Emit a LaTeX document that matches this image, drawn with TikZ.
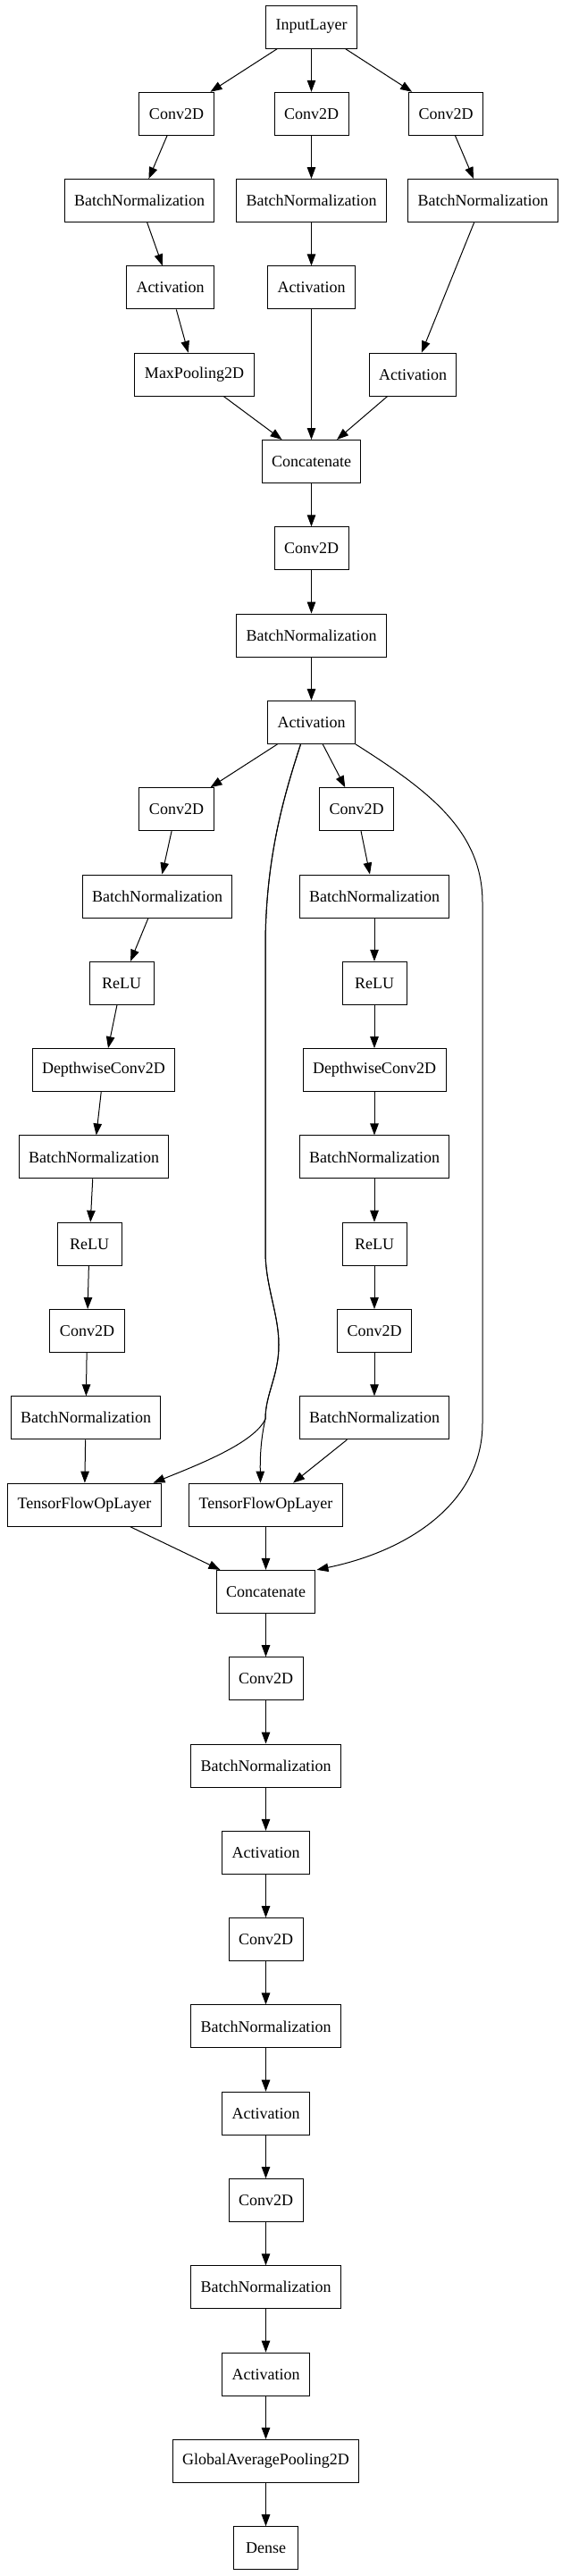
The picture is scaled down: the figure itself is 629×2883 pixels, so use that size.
\documentclass[tikz,border=0pt]{standalone}
\usepackage{fontspec}
\setmainfont{Liberation Serif}
\usepackage{tikz}
\usetikzlibrary{arrows.meta}

\begin{document}
\begin{tikzpicture}[x=1pt, y=-1pt,
        layer/.style={draw=black, line width=1pt, minimum width=72pt, minimum height=48pt,
            inner xsep=11pt, inner ysep=2pt, font=\fontsize{18}{20}\selectfont},
        flow/.style={draw=black, line width=1pt, -{Triangle[length=13pt, width=9.5pt]}}]
        \useasboundingbox (0,0) rectangle (629,2883);
        % Stem - three branches
        \node[layer] (input) at (348.5, 30) {InputLayer};
        \node[layer] (convA) at (197.5, 127.3) {Conv2D};
        \node[layer] (convB) at (348.5, 127.3) {Conv2D};
        \node[layer] (convC) at (499, 127.3) {Conv2D};
        \node[layer] (bnA) at (156, 224.6) {BatchNormalization};
        \node[layer] (bnB) at (348.5, 224.6) {BatchNormalization};
        \node[layer] (bnC) at (540.5, 224.6) {BatchNormalization};
        \node[layer] (actA) at (190.5, 321.9) {Activation};
        \node[layer] (actB) at (348.5, 321.9) {Activation};
        \node[layer] (poolA) at (217.5, 419.2) {MaxPooling2D};
        \node[layer] (actC) at (462, 419.2) {Activation};
        \node[layer] (cat1) at (348.5, 516.5) {Concatenate};
        \node[layer] (conv1) at (348.5, 613.8) {Conv2D};
        \node[layer] (bn1) at (348.5, 711.1) {BatchNormalization};
        \node[layer] (act1) at (348.5, 808.4) {Activation};

        % Separable blocks
        \node[layer] (convL) at (197.5, 905.7) {Conv2D};
        \node[layer] (convR) at (399, 905.7) {Conv2D};
        \node[layer] (bnL1) at (176, 1003) {BatchNormalization};
        \node[layer] (bnR1) at (419, 1003) {BatchNormalization};
        \node[layer] (reluL1) at (136, 1100.3) {ReLU};
        \node[layer] (reluR1) at (419, 1100.3) {ReLU};
        \node[layer] (dwL) at (116, 1197.6) {DepthwiseConv2D};
        \node[layer] (dwR) at (419, 1197.6) {DepthwiseConv2D};
        \node[layer] (bnL2) at (105, 1294.9) {BatchNormalization};
        \node[layer] (bnR2) at (419, 1294.9) {BatchNormalization};
        \node[layer] (reluL2) at (100, 1392.2) {ReLU};
        \node[layer] (reluR2) at (419, 1392.2) {ReLU};
        \node[layer] (convL2) at (97.5, 1489.5) {Conv2D};
        \node[layer] (convR2) at (419, 1489.5) {Conv2D};
        \node[layer] (bnL3) at (96, 1586.8) {BatchNormalization};
        \node[layer] (bnR3) at (419, 1586.8) {BatchNormalization};
        \node[layer] (tfL) at (94.5, 1684.1) {TensorFlowOpLayer};
        \node[layer] (tfR) at (297.5, 1684.1) {TensorFlowOpLayer};
        \node[layer] (cat2) at (297.5, 1781.4) {Concatenate};

        % Head
        \node[layer] (conv3) at (297.5, 1878.7) {Conv2D};
        \node[layer] (bn3) at (297.5, 1976) {BatchNormalization};
        \node[layer] (act3) at (297.5, 2073.3) {Activation};
        \node[layer] (conv4) at (297.5, 2170.6) {Conv2D};
        \node[layer] (bn4) at (297.5, 2267.9) {BatchNormalization};
        \node[layer] (act4) at (297.5, 2365.2) {Activation};
        \node[layer] (conv5) at (297.5, 2462.5) {Conv2D};
        \node[layer] (bn5) at (297.5, 2559.8) {BatchNormalization};
        \node[layer] (act5) at (297.5, 2657.1) {Activation};
        \node[layer] (gap) at (297.5, 2754.4) {GlobalAveragePooling2D};
        \node[layer] (dense) at (297.5, 2851.7) {Dense};

        % straight edges
        \foreach \a/\b in {input/convA, input/convB, input/convC, convA/bnA, convB/bnB, convC/bnC,
            bnA/actA, bnB/actB, bnC/actC, actA/poolA, poolA/cat1, actB/cat1, actC/cat1,
            cat1/conv1, conv1/bn1, bn1/act1, act1/convL, act1/convR,
            convL/bnL1, bnL1/reluL1, reluL1/dwL, dwL/bnL2, bnL2/reluL2, reluL2/convL2, convL2/bnL3, bnL3/tfL,
            convR/bnR1, bnR1/reluR1, reluR1/dwR, dwR/bnR2, bnR2/reluR2, reluR2/convR2, convR2/bnR3, bnR3/tfR,
            tfL/cat2, tfR/cat2, cat2/conv3, conv3/bn3, bn3/act3, act3/conv4, conv4/bn4, bn4/act4,
            act4/conv5, conv5/bn5, bn5/act5, act5/gap, gap/dense}
            \draw[flow] (\a) -- (\b);

        % skip connections
        \coordinate (split) at (297, 1588);
        \draw[flow] ([xshift=-12pt]act1.south) .. controls (318, 890) and (297, 960) .. (297, 1060)
            -- (297, 1400) .. controls (297, 1440) and (312, 1470) .. (312, 1505)
            .. controls (312, 1540) and (297, 1560) .. (split)
            .. controls (292, 1610) and (291, 1630) .. ([xshift=-6pt]tfR.north);
        \draw[flow] ([xshift=-12pt]act1.south) .. controls (318, 890) and (297, 960) .. (297, 1060)
            -- (297, 1400) .. controls (297, 1440) and (312, 1470) .. (312, 1505)
            .. controls (312, 1540) and (297, 1560) .. (split)
            .. controls (285, 1615) and (220, 1640) .. ([xshift=77pt]tfL.north);
        \draw[flow] (act1.south east) .. controls (480, 885) and (540, 930) .. (540, 1010)
            -- (540, 1593) .. controls (540, 1680) and (460, 1735) .. ([xshift=57pt]cat2.north);
    \end{tikzpicture}
\end{document}
